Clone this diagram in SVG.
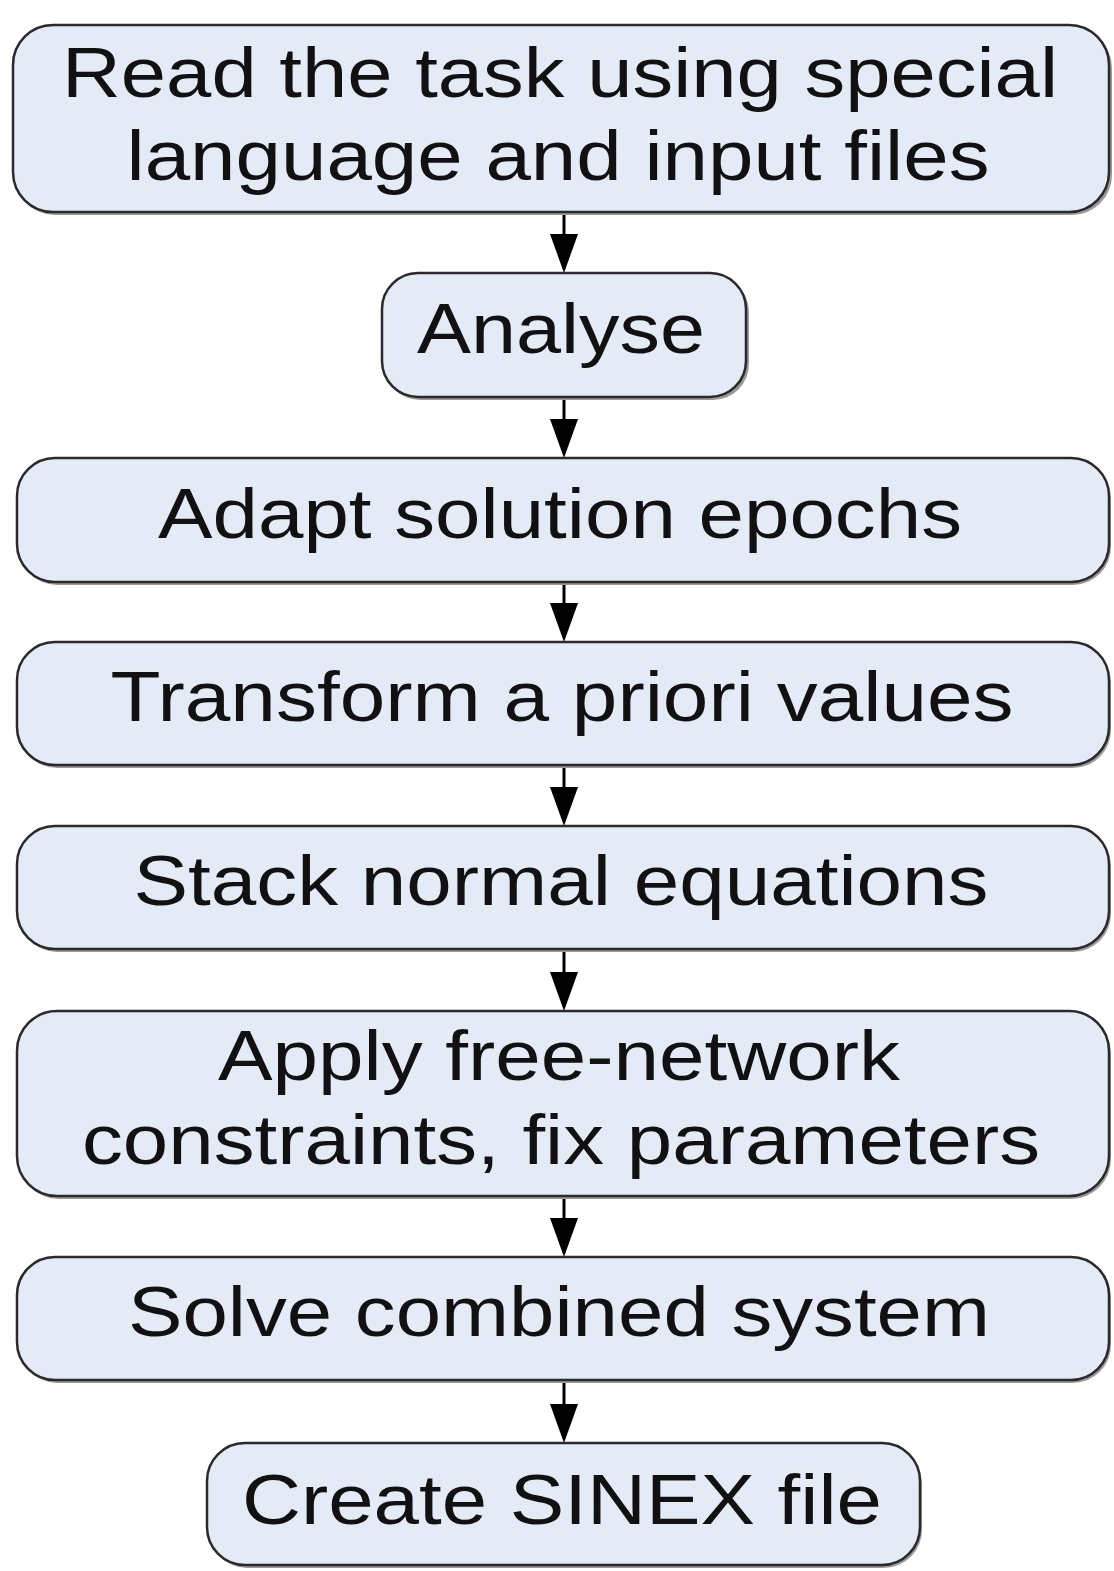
<svg xmlns="http://www.w3.org/2000/svg" width="1114" height="1571" viewBox="0 0 1114 1571">
  <style>
    .shadow { fill: #9a9a9a; }
    .box { fill: #e5ebf6; stroke: #2a2a2a; stroke-width: 2.5; }
    .label { font-family: "Liberation Sans", Arial, sans-serif; font-size: 70px; fill: #111; text-anchor: middle; }
    .wire { stroke: #000; stroke-width: 3; fill: none; }
    .head { fill: #000; }
  </style>
  <rect width="1114" height="1571" fill="#fff"/>

  <!-- connectors -->
  <g id="connectors">
    <line class="wire" x1="564" y1="212" x2="564" y2="250"/>
    <polygon class="head" points="550,234 578,234 564,273"/>
    <line class="wire" x1="564" y1="397" x2="564" y2="435"/>
    <polygon class="head" points="550,419 578,419 564,458"/>
    <line class="wire" x1="564" y1="582" x2="564" y2="620"/>
    <polygon class="head" points="550,603 578,603 564,642"/>
    <line class="wire" x1="564" y1="765" x2="564" y2="803"/>
    <polygon class="head" points="550,787 578,787 564,826"/>
    <line class="wire" x1="564" y1="949" x2="564" y2="988"/>
    <polygon class="head" points="550,972 578,972 564,1011"/>
    <line class="wire" x1="564" y1="1196" x2="564" y2="1234"/>
    <polygon class="head" points="550,1218 578,1218 564,1257"/>
    <line class="wire" x1="564" y1="1380" x2="564" y2="1420"/>
    <polygon class="head" points="550,1404 578,1404 564,1443"/>
  </g>

  <g id="read-task">
    <rect class="shadow" x="15" y="28" width="1097" height="187" rx="40"/>
    <rect class="box" x="13" y="25" width="1096" height="187" rx="40"/>
    <text class="label" x="560" y="97" textLength="996" lengthAdjust="spacingAndGlyphs">Read the task using special</text>
    <text class="label" x="558" y="180" textLength="863" lengthAdjust="spacingAndGlyphs">language and input files</text>
  </g>

  <g id="analyse">
    <rect class="shadow" x="384" y="276" width="365" height="124" rx="36"/>
    <rect class="box" x="382" y="273" width="364" height="124" rx="36"/>
    <text class="label" x="561" y="353" textLength="288" lengthAdjust="spacingAndGlyphs">Analyse</text>
  </g>

  <g id="adapt-epochs">
    <rect class="shadow" x="19" y="461" width="1092" height="124" rx="38"/>
    <rect class="box" x="17" y="458" width="1092" height="124" rx="38"/>
    <text class="label" x="560" y="538" textLength="804" lengthAdjust="spacingAndGlyphs">Adapt solution epochs</text>
  </g>

  <g id="transform-apriori">
    <rect class="shadow" x="19" y="645" width="1092" height="123" rx="38"/>
    <rect class="box" x="17" y="642" width="1092" height="123" rx="38"/>
    <text class="label" x="562" y="721" textLength="903" lengthAdjust="spacingAndGlyphs">Transform a priori values</text>
  </g>

  <g id="stack-normals">
    <rect class="shadow" x="19" y="829" width="1092" height="123" rx="38"/>
    <rect class="box" x="17" y="826" width="1092" height="123" rx="38"/>
    <text class="label" x="561" y="905" textLength="855" lengthAdjust="spacingAndGlyphs">Stack normal equations</text>
  </g>

  <g id="apply-constraints">
    <rect class="shadow" x="19" y="1014" width="1092" height="185" rx="40"/>
    <rect class="box" x="17" y="1011" width="1092" height="185" rx="40"/>
    <text class="label" x="559" y="1080" textLength="682" lengthAdjust="spacingAndGlyphs">Apply free-network</text>
    <text class="label" x="561" y="1164" textLength="958" lengthAdjust="spacingAndGlyphs">constraints, fix parameters</text>
  </g>

  <g id="solve-system">
    <rect class="shadow" x="19" y="1260" width="1092" height="123" rx="38"/>
    <rect class="box" x="17" y="1257" width="1092" height="123" rx="38"/>
    <text class="label" x="559" y="1336" textLength="862" lengthAdjust="spacingAndGlyphs">Solve combined system</text>
  </g>

  <g id="create-sinex">
    <rect class="shadow" x="209" y="1446" width="713" height="122" rx="38"/>
    <rect class="box" x="207" y="1443" width="713" height="122" rx="38"/>
    <text class="label" x="562" y="1524" textLength="640" lengthAdjust="spacingAndGlyphs">Create SINEX file</text>
  </g>
</svg>
